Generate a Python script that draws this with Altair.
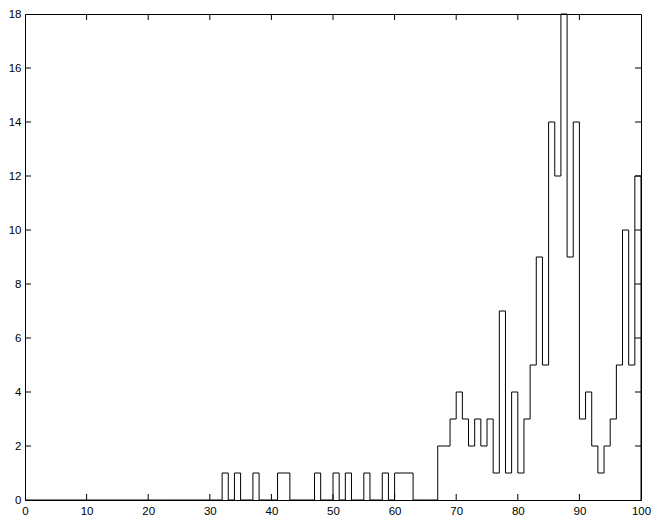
import altair as alt
import pandas as pd

# Histogram counts for unit-width bins starting at 0, 1, ..., 99
counts = [
    0, 0, 0, 0, 0, 0, 0, 0, 0, 0,
    0, 0, 0, 0, 0, 0, 0, 0, 0, 0,
    0, 0, 0, 0, 0, 0, 0, 0, 0, 0,
    0, 0, 1, 0, 1, 0, 0, 1, 0, 0,
    0, 1, 1, 0, 0, 0, 0, 1, 0, 0,
    1, 0, 1, 0, 0, 1, 0, 0, 1, 0,
    1, 1, 1, 0, 0, 0, 0, 2, 2, 3,
    4, 3, 2, 3, 2, 3, 1, 7, 1, 4,
    1, 3, 5, 9, 5, 14, 12, 18, 9, 14,
    3, 4, 2, 1, 2, 3, 5, 10, 5, 12,
]
bin_width = 1
x_ticks = [0, 10, 20, 30, 40, 50, 60, 70, 80, 90, 100]
y_ticks = [0, 2, 4, 6, 8, 10, 12, 14, 16, 18]

W, H = 616, 486
TICK = 6
FONT = "Liberation Sans"
FS = 11.5

edges = [i * bin_width for i in range(len(counts))] + [len(counts) * bin_width]
vals = counts + [0]
df = pd.DataFrame({"x": edges, "y": vals})

xs = alt.Scale(domain=[0, 100], nice=False, zero=False)
ys = alt.Scale(domain=[0, 18], nice=False)

line = alt.Chart(df).mark_line(
    interpolate="step-after", color="black", strokeWidth=1
).encode(
    x=alt.X("x:Q", scale=xs, axis=alt.Axis(
        values=x_ticks, title=None, grid=False, ticks=False, tickSize=0,
        domain=False, labelPadding=5, labelFlush=False, labelOverlap=False,
        labelFont=FONT, labelFontSize=FS, labelColor="black")),
    y=alt.Y("y:Q", scale=ys, axis=alt.Axis(
        values=y_ticks, title=None, grid=False, ticks=False, tickSize=0,
        domain=False, labelPadding=4, labelFlush=False, labelOverlap=False,
        labelFont=FONT, labelFontSize=FS, labelColor="black")),
)

xt = pd.DataFrame({"v": x_ticks[1:-1]})
yt = pd.DataFrame({"v": y_ticks[1:-1]})

bottom_ticks = alt.Chart(xt).mark_rule(color="black", strokeWidth=1).encode(
    x=alt.X("v:Q", scale=xs), y=alt.value(H), y2=alt.value(H - TICK))
top_ticks = alt.Chart(xt).mark_rule(color="black", strokeWidth=1).encode(
    x=alt.X("v:Q", scale=xs), y=alt.value(0), y2=alt.value(TICK))
left_ticks = alt.Chart(yt).mark_rule(color="black", strokeWidth=1).encode(
    y=alt.Y("v:Q", scale=ys), x=alt.value(0), x2=alt.value(TICK))
right_ticks = alt.Chart(yt).mark_rule(color="black", strokeWidth=1).encode(
    y=alt.Y("v:Q", scale=ys), x=alt.value(W), x2=alt.value(W - TICK))

chart = alt.layer(line, bottom_ticks, top_ticks, left_ticks, right_ticks).properties(
    width=W, height=H,
    autosize=alt.AutoSizeParams(type="none"),
    padding={"left": 17, "top": 6, "right": 10, "bottom": 16},
    background="white",
).configure_view(stroke="black", strokeWidth=1)

chart.save("out.html", embed_options={"renderer": "svg", "actions": False})
